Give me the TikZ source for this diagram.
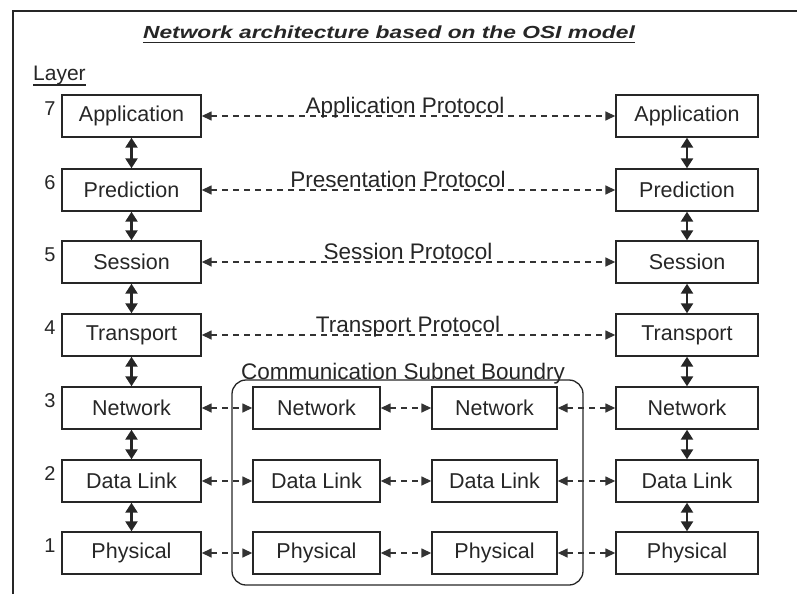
\documentclass[tikz,border=0pt]{standalone}
\usepackage{graphicx}
\usepackage{fontspec}
\setmainfont{Liberation Sans}
\usetikzlibrary{arrows.meta}
\definecolor{ink}{HTML}{262626}
\definecolor{dashink}{HTML}{333333}
\begin{document}
\begin{tikzpicture}[x=1pt,y=-1pt,
  layerbox/.style={draw=ink, line width=1.4pt, minimum height=42pt, inner sep=0pt,
    text=ink, font=\fontsize{21.5}{24}\selectfont},
  num/.style={inner sep=0pt, text=ink, font=\fontsize{20}{22}\selectfont},
  protolabel/.style={anchor=base, inner sep=0pt, text=ink, font=\fontsize{22.5}{26}\selectfont},
  varrow/.style={draw=ink, line width=2.4pt,
    {Triangle[length=10pt,width=12pt]}-{Triangle[length=10pt,width=12pt]}},
  peer/.style={draw=dashink, line width=1.5pt, dash pattern=on 6pt off 5pt,
    {Triangle[length=10pt,width=9pt]}-{Triangle[length=10pt,width=9pt]}},
  frameline/.style={draw=ink, line width=1.8pt}
]
\useasboundingbox (0,0) rectangle (797,594);

% outer frame (top and left edges)
\draw[frameline] (13,594) -- (13,11) -- (797,11);

% heading
\node[anchor=base, inner sep=0pt, text=ink] (title) at (389,39)
  {\scalebox{1.3}[1]{\fontsize{17.5}{20}\selectfont\bfseries\itshape Network architecture based on the OSI model}};
\draw[draw=ink, line width=1.8pt] ([yshift=-3.5pt]title.base west) -- ([yshift=-3.5pt]title.base east);

\node[anchor=base west, inner sep=0pt, text=ink, font=\fontsize{21}{24}\selectfont] (layer) at (33,81) {Layer};
\draw[draw=ink, line width=1.2pt] ([yshift=-4pt]layer.base west) -- ([yshift=-4pt]layer.base east);

% subnet boundary
\node[draw=ink, line width=1.3pt, rounded corners=14pt, minimum width=351pt, minimum height=205pt,
  inner sep=0pt] (subnet) at (407.5,482.5) {};
\node[protolabel] (subnetlabel) at (403,379) {Communication Subnet Boundry};

% the two end systems
\foreach \n/\t/\y in {7/Application/116, 6/Prediction/190, 5/Session/262, 4/Transport/335,
                      3/Network/408, 2/Data Link/481, 1/Physical/553} {
  \node[layerbox, minimum width=139pt] (L\n) at (131.5,\y) {\t};
  \node[layerbox, minimum width=142pt] (R\n) at (687,\y) {\t};
  \node[num] (N\n) at (50,\y-7) {\n};
}

% intermediate nodes inside the subnet
\foreach \n/\t/\y in {3/Network/408, 2/Data Link/481, 1/Physical/553} {
  \node[layerbox, minimum width=127pt] (A\n) at (316.5,\y) {\t};
  \node[layerbox, minimum width=125pt] (B\n) at (494.5,\y) {\t};
}

% vertical interfaces
\foreach \a/\b in {7/6,6/5,5/4,4/3,3/2,2/1} {
  \draw[varrow] (L\a) -- (L\b);
  \draw[varrow] (R\a) -- (R\b);
}

% peer protocols
\draw[peer] (L7) -- (R7);
\draw[peer] (L6) -- (R6);
\draw[peer] (L5) -- (R5);
\draw[peer] (L4) -- (R4);
\node[protolabel] (p7) at (405,113) {Application Protocol};
\node[protolabel] (p6) at (398,187) {Presentation Protocol};
\node[protolabel] (p5) at (408,259) {Session Protocol};
\node[protolabel] (p4) at (408,332) {Transport Protocol};

% hop-by-hop links
\foreach \n in {3,2,1} {
  \draw[peer] (L\n) -- (A\n);
  \draw[peer] (A\n) -- (B\n);
  \draw[peer] (B\n) -- (R\n);
}
\end{tikzpicture}
\end{document}
